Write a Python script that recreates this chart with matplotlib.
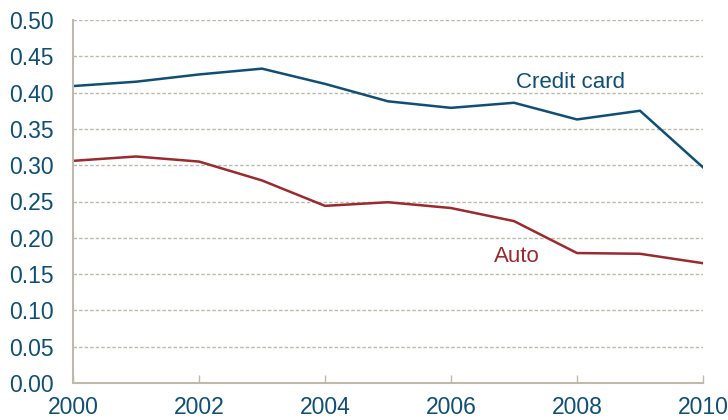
import numpy as np
import matplotlib.pyplot as plt

years = [2000, 2001, 2002, 2003, 2004, 2005, 2006, 2007, 2008, 2009, 2010]
credit_card = [0.409, 0.415, 0.425, 0.433, 0.412, 0.388, 0.379, 0.386, 0.363, 0.375, 0.297]
auto = [0.306, 0.312, 0.305, 0.279, 0.244, 0.249, 0.241, 0.223, 0.179, 0.178, 0.165]

blue = '#0F4F75'
red = '#9A2A2E'
grey = '#BDBAAD'

plt.rcParams['font.family'] = ['Liberation Sans', 'DejaVu Sans']

fig = plt.figure(figsize=(7.28, 4.2), dpi=100)
ax = fig.add_axes([73/728, 1 - 383/420, 630/728, 363/420])

ax.plot(years, credit_card, color=blue, lw=1.8)
ax.plot(years, auto, color=red, lw=1.8)

ax.set_xlim(2000, 2010)
ax.set_ylim(0, 0.5)
ax.set_xticks(range(2000, 2011, 2))
ax.set_yticks(np.arange(0, 0.51, 0.05))
ax.set_yticklabels(['%.2f' % v for v in np.arange(0, 0.51, 0.05)])

ax.yaxis.grid(True, color=grey, ls=(0, (2.5, 1.5)), lw=1)
ax.set_axisbelow(True)
for s in ['top', 'right']:
    ax.spines[s].set_visible(False)
for s in ['left', 'bottom']:
    ax.spines[s].set_color(grey)
    ax.spines[s].set_linewidth(1.5)

ax.tick_params(axis='x', direction='in', length=6, width=1, color=grey,
               labelsize=16.5, labelcolor=blue, pad=9)
ax.tick_params(axis='y', length=0, labelsize=16.5, labelcolor=blue, pad=14)

ax.text(2007.9, 0.414, 'Credit card', color=blue, fontsize=16, ha='center', va='center')
ax.text(2007.05, 0.174, 'Auto', color=red, fontsize=16, ha='center', va='center')

fig.savefig('out.png', dpi=100)
